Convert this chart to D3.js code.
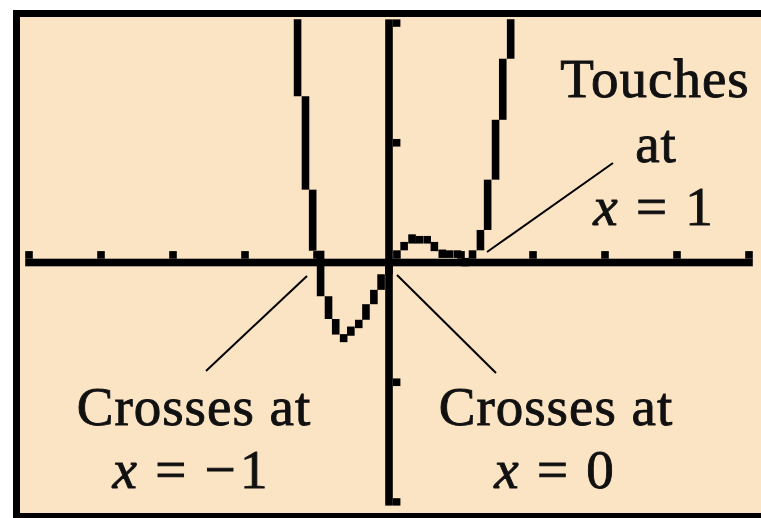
<!DOCTYPE html>
<html>
<head>
<meta charset="utf-8">
<script src="https://cdn.jsdelivr.net/npm/d3@7"></script>
<style>
    body { margin: 0; background: #ffffff; overflow: hidden; }
    text { font-family: "Liberation Serif", "Times New Roman", serif; }
</style>
</head>
<body>
<div id="chart-area"></div>
<script>

// Screen columns of the calculator (x) and the height lit in each column (y)
var xCols = [-1.37, -1.27, -1.16, -1.06, -0.95, -0.84, -0.74, -0.63, -0.53, -0.42,
             -0.32, -0.21, -0.11, 0, 0.11, 0.21, 0.32, 0.42, 0.53, 0.63,
             0.74, 0.84, 0.95, 1.06, 1.16, 1.27, 1.37, 1.48, 1.58, 1.69];
var yVals = [2.4, 1.42, 0.64, 0.13, -0.25, -0.44, -0.57, -0.63, -0.58, -0.51,
             -0.38, -0.26, -0.13, 0, 0.07, 0.14, 0.19, 0.19, 0.19, 0.14,
             0.07, 0.07, 0.07, 0, 0.07, 0.24, 0.66, 1.16, 1.67, 2.2];

// Tick marks
var xTicks = [-5, -4, -3, -2, -1, 1, 2, 3, 4, 5];
var yTicks = [-2, -1, 1, 2];

// Annotation texts
var noteTouch = ["Touches", "at", "1"];
var noteLeft = ["Crosses at", "\u2212\u200a1"];
var noteRight = ["Crosses at", "0"];

var W = 761, H = 518;
var bg = "#fbe4c4";
var px = 7.6;       // size of one calculator pixel
var fontSize = 55;

var svg = d3.select("#chart-area")
    .append("svg")
        .attr("width", W)
        .attr("height", H)
        .style("display", "block");

// Screen frame
svg.append("rect")
    .attr("x", 16.5)
    .attr("y", 13.5)
    .attr("width", 800)
    .attr("height", 503)
    .attr("fill", bg)
    .attr("stroke", "#000")
    .attr("stroke-width", 7);

// X Scale
var x = d3.scaleLinear()
    .domain([-5, 5])
    .range([29, 749]);

// Y Scale
var y = d3.scaleLinear()
    .domain([-2, 2])
    .range([502, 23]);

svg.append("clipPath")
    .attr("id", "screen")
    .append("rect")
        .attr("x", 20)
        .attr("y", y(2) - px / 2)
        .attr("width", W - 20)
        .attr("height", y(-2) - y(2) + px);

var g = svg.append("g")
    .attr("clip-path", "url(#screen)");

// X axis + ticks (drawn above the axis, calculator style)
g.append("rect")
    .attr("x", x(-5) - px / 2)
    .attr("y", y(0) - px / 2)
    .attr("width", x(5) - x(-5) + px)
    .attr("height", px)
    .attr("fill", "#000");

g.selectAll(".xtick")
    .data(xTicks)
    .enter().append("rect")
        .attr("class", "xtick")
        .attr("x", function(d){ return x(d) - px / 2; })
        .attr("y", y(0) - px * 1.5)
        .attr("width", px)
        .attr("height", px)
        .attr("fill", "#000");

// Y axis + ticks (to the right)
g.append("rect")
    .attr("x", x(0) - px / 2)
    .attr("y", y(2) - px / 2)
    .attr("width", px)
    .attr("height", y(-2) - y(2) + px)
    .attr("fill", "#000");

g.selectAll(".ytick")
    .data(yTicks)
    .enter().append("rect")
        .attr("class", "ytick")
        .attr("x", x(0) + px / 2)
        .attr("y", function(d){ return y(d) - px / 2; })
        .attr("width", px)
        .attr("height", px)
        .attr("fill", "#000");

// Curve: each column lights a run from the previous height to its own
var cols = xCols.map(function(d, i){
    var cur = y(yVals[i]);
    var lo = cur, hi = cur;
    if (i > 0) {
        var prev = y(yVals[i - 1]);
        if (Math.abs(cur - prev) > px / 2) {
            var start = cur > prev ? prev + px : prev - px;
            lo = Math.min(cur, start);
            hi = Math.max(cur, start);
        }
    }
    return { cx: x(d), lo: lo, hi: hi };
});

g.selectAll(".col")
    .data(cols)
    .enter().append("rect")
        .attr("class", "col")
        .attr("x", function(d){ return d.cx - px / 2; })
        .attr("y", function(d){ return d.lo - px / 2; })
        .attr("width", px)
        .attr("height", function(d){ return d.hi - d.lo + px; })
        .attr("fill", "#000");

// Pointer lines
var pointers = [
    [[487, 252], [613, 163]],
    [[307, 276], [206, 371]],
    [[397, 275], [496, 373]]
];
svg.selectAll(".pointer")
    .data(pointers)
    .enter().append("line")
        .attr("class", "pointer")
        .attr("x1", function(d){ return d[0][0]; })
        .attr("y1", function(d){ return d[0][1]; })
        .attr("x2", function(d){ return d[1][0]; })
        .attr("y2", function(d){ return d[1][1]; })
        .attr("stroke", "#000")
        .attr("stroke-width", 2);

function label(text, cx, cy) {
    return svg.append("text")
        .attr("x", cx)
        .attr("y", cy)
        .attr("text-anchor", "middle")
        .attr("font-size", fontSize + "px")
        .attr("letter-spacing", "1px")
        .attr("fill", "#111")
        .attr("stroke", "#111")
        .attr("stroke-width", 0.9)
        .text(text);
}

function eqLabel(value, cx, cy) {
    var t = svg.append("text")
        .attr("x", cx)
        .attr("y", cy)
        .attr("text-anchor", "middle")
        .attr("font-size", fontSize + "px")
        .attr("fill", "#111")
        .attr("stroke", "#111")
        .attr("stroke-width", 0.9);
    t.append("tspan").attr("font-style", "italic").text("x");
    t.append("tspan").text("\u2004=\u2004" + value);
    return t;
}

label(noteTouch[0], 655, 97);
label(noteTouch[1], 656, 162);
eqLabel(noteTouch[2], 653, 225);

label(noteLeft[0], 194, 425);
eqLabel(noteLeft[1], 190, 488);

label(noteRight[0], 556, 425);
eqLabel(noteRight[1], 554, 488);

</script>
</body>
</html>
